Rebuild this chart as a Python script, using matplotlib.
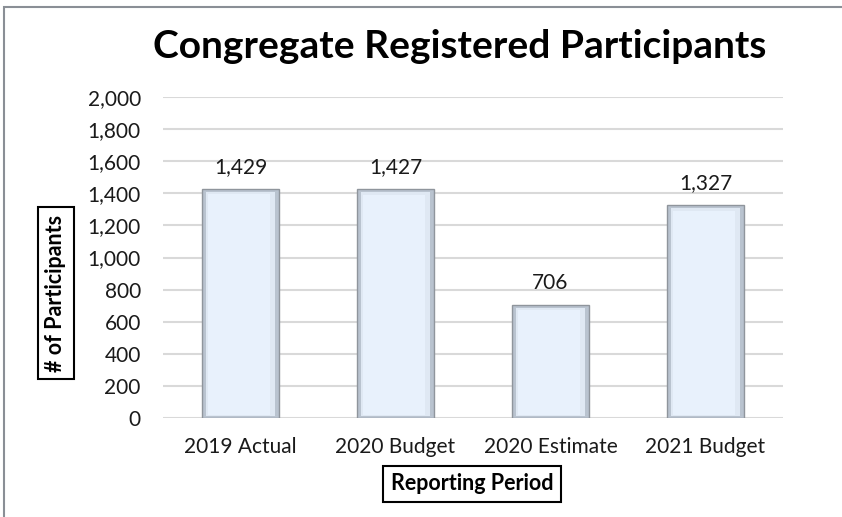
import numpy as np
import matplotlib.pyplot as plt
from matplotlib.patches import Rectangle

plt.rcParams['font.family'] = ['Lato', 'DejaVu Sans']

# chart data
periods = ["2019 Actual", "2020 Budget", "2020 Estimate", "2021 Budget"]
participants = [1429, 1427, 706, 1327]
yticks = [0, 200, 400, 600, 800, 1000, 1200, 1400, 1600, 1800, 2000]

fig = plt.figure(figsize=(8.42, 5.17), dpi=100)
ax = fig.add_axes([163 / 842, 1 - 418 / 517, 620 / 842, 321 / 517])

x = np.arange(len(periods))
w = 0.5
vals = np.array(participants)

# bevelled bars: base, side shading and light face
ax.bar(x, vals, width=w, color='#b9c3cf', edgecolor='#8f959c', linewidth=1.0, zorder=3)
ax.bar(x, vals - 30, width=w - 0.06, bottom=10, color='#dfe8f3', linewidth=0, zorder=4)
ax.bar(x - 0.01, vals - 55, width=w - 0.1, bottom=20, color='#e8f1fc', linewidth=0, zorder=5)

for xi, v in zip(x, participants):
    ax.text(xi, v + 75, f"{v:,}", ha='center', va='bottom', fontsize=15, color='#1a1a1a')

ax.set_ylim(0, 2000)
ax.set_xlim(-0.5, len(periods) - 0.5)
ax.set_yticks(yticks)
ax.set_yticklabels([f"{t:,}" for t in yticks])
ax.set_xticks(x)
ax.set_xticklabels(periods)
ax.tick_params(axis='both', length=0, labelsize=15, colors='#1a1a1a')
ax.tick_params(axis='x', pad=14)
ax.tick_params(axis='y', pad=16)
ax.grid(axis='y', color='#d9d9d9', linewidth=1.5, zorder=0)
ax.set_axisbelow(True)
for s in ax.spines.values():
    s.set_visible(False)

fig.text(460 / 842, 1 - 47 / 517, "Congregate Registered Participants", ha='center', va='center',
         fontsize=28, fontweight='bold', color='black')

box = dict(boxstyle='square,pad=0.35', facecolor='white', edgecolor='black', linewidth=1.5)
fig.text(56 / 842, 1 - 293 / 517, "# of Participants", rotation=90, ha='center', va='center',
         fontsize=15.5, fontweight='bold', bbox=box)
fig.text(472 / 842, 1 - 484 / 517, "Reporting Period", ha='center', va='center',
         fontsize=15.5, fontweight='bold', bbox=box)

# outer chart frame
fig.patches.append(Rectangle((4 / 842, -0.1), 1.2, 1 - 7 / 517 + 0.1, transform=fig.transFigure,
                             fill=False, edgecolor='#8a8f96', linewidth=1.5))

fig.savefig("out.png", dpi=100)
